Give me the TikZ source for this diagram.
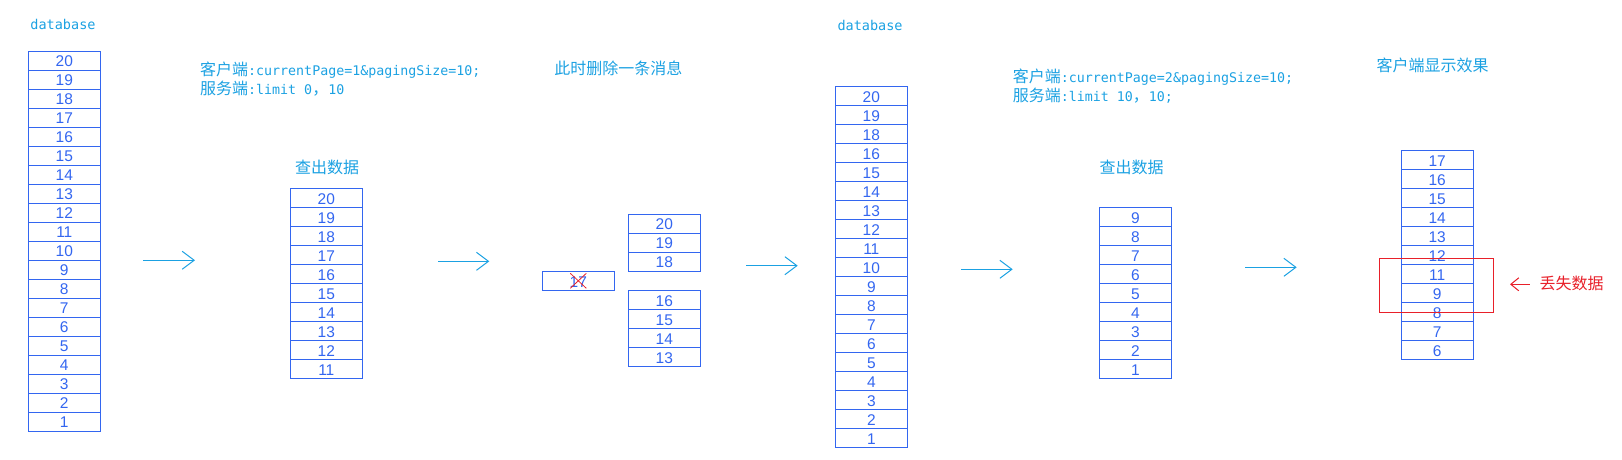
\documentclass[tikz,border=0pt]{standalone}
\usepackage{fontspec}
\setmainfont{Liberation Sans}
\setmonofont{DejaVu Sans Mono}
\newfontfamily\cjk{Noto Sans CJK SC}
\usetikzlibrary{arrows.meta}
\definecolor{txtc}{HTML}{1BA1E2}
\definecolor{cellc}{HTML}{3366F0}
\definecolor{lostc}{HTML}{E8202A}
\tikzset{
  cell/.style={draw=cellc, line width=1pt, minimum width=72pt, minimum height=19pt,
    inner sep=0pt, text=cellc, text height=12.5pt, text depth=0pt, font=\fontsize{15.5}{15.5}\selectfont},
  lbl/.style={inner sep=0pt, text=txtc, font=\cjk\fontsize{16}{16}\selectfont},
  mono/.style={inner sep=0pt, text=txtc, font=\ttfamily\fontsize{13.5}{13.5}\selectfont},
  flow/.style={draw=txtc, line width=1pt, -{Straight Barb[length=12pt,width=18pt,line width=1pt]}},
  lostarrow/.style={draw=lostc, line width=1pt, -{Straight Barb[length=8pt,width=13pt,line width=1pt]}},
}
\newcommand{\colcells}[4]{%
  \foreach \v [count=\i] in {#4} {\node[cell] (#1\i) at (#2, #3+9.5+19*\i-19) {\v};}}
\newcommand{\tts}[1]{{\ttfamily\fontsize{13.3}{13.3}\selectfont #1}}
\begin{document}
\begin{tikzpicture}[x=1pt,y=-1pt]
\useasboundingbox (0,0) rectangle (1622,459);
% column 1: database
\node[mono] (db1) at (63,24) {database};
\colcells{a}{64.3}{51}{20,19,18,17,16,15,14,13,12,11,10,9,8,7,6,5,4,3,2,1}
% query text 1
\node[lbl, anchor=base west] (q1a) at (200,75.5) {客户端\tts{:currentPage=1\&pagingSize=10;}};
\node[lbl, anchor=base west] (q1b) at (200,94.5) {服务端\tts{:limit 0}，\tts{10}};
\node[lbl] (r1) at (327,167) {查出数据};
\colcells{b}{326.3}{188.3}{20,19,18,17,16,15,14,13,12,11}
% delete
\node[lbl] (del) at (618.3,68.3) {此时删除一条消息};
\colcells{d}{578.3}{271.3}{17}
\draw[lostc, line width=0.8pt] ([shift={(-8,-7.5)}]d1.center) -- ([shift={(8,7.5)}]d1.center);
\draw[lostc, line width=0.8pt] ([shift={(8,-7.5)}]d1.center) -- ([shift={(-8,7.5)}]d1.center);
\colcells{u}{664.3}{214}{20,19,18}
\colcells{l}{664.3}{290.3}{16,15,14,13}
% database 2
\node[mono] (db2) at (870,25.7) {database};
\colcells{c}{871.3}{86.3}{20,19,18,16,15,14,13,12,11,10,9,8,7,6,5,4,3,2,1}
% query text 2
\node[lbl, anchor=base west] (q2a) at (1012.7,82.7) {客户端\tts{:currentPage=2\&pagingSize=10;}};
\node[lbl, anchor=base west] (q2b) at (1012.7,101.5) {服务端\tts{:limit 10}，\tts{10;}};
\node[lbl] (r2) at (1131.7,167.7) {查出数据};
\colcells{e}{1135.3}{207.3}{9,8,7,6,5,4,3,2,1}
% client display
\node[lbl] (disp) at (1432.7,65) {客户端显示效果};
\colcells{f}{1437.2}{150.3}{17,16,15,14,13,12,11,9,8,7,6}
\node[draw=lostc, line width=1pt, minimum width=114.4pt, minimum height=54pt, inner sep=0pt] (lost) at (1436.5,285.3) {};
\node[lbl, text=lostc] (lostlbl) at (1571.7,283.3) {丢失数据};
\coordinate (ra) at (1510,284.3);
\draw[lostarrow] ([xshift=-10pt,yshift=-1pt]lostlbl.west) -- (ra);
% flow arrows
\coordinate (f1s) at (143,260.3); \coordinate (f1e) at (195,260.3);
\coordinate (f2s) at (438.3,261.3); \coordinate (f2e) at (489.3,261.3);
\coordinate (f3s) at (746,265.7); \coordinate (f3e) at (797.7,265.7);
\coordinate (f4s) at (961,269.3); \coordinate (f4e) at (1012.7,269.3);
\coordinate (f5s) at (1245,267.3); \coordinate (f5e) at (1296.7,267.3);
\foreach \k in {1,...,5} {\draw[flow] (f\k s) -- (f\k e);}
\end{tikzpicture}
\end{document}
